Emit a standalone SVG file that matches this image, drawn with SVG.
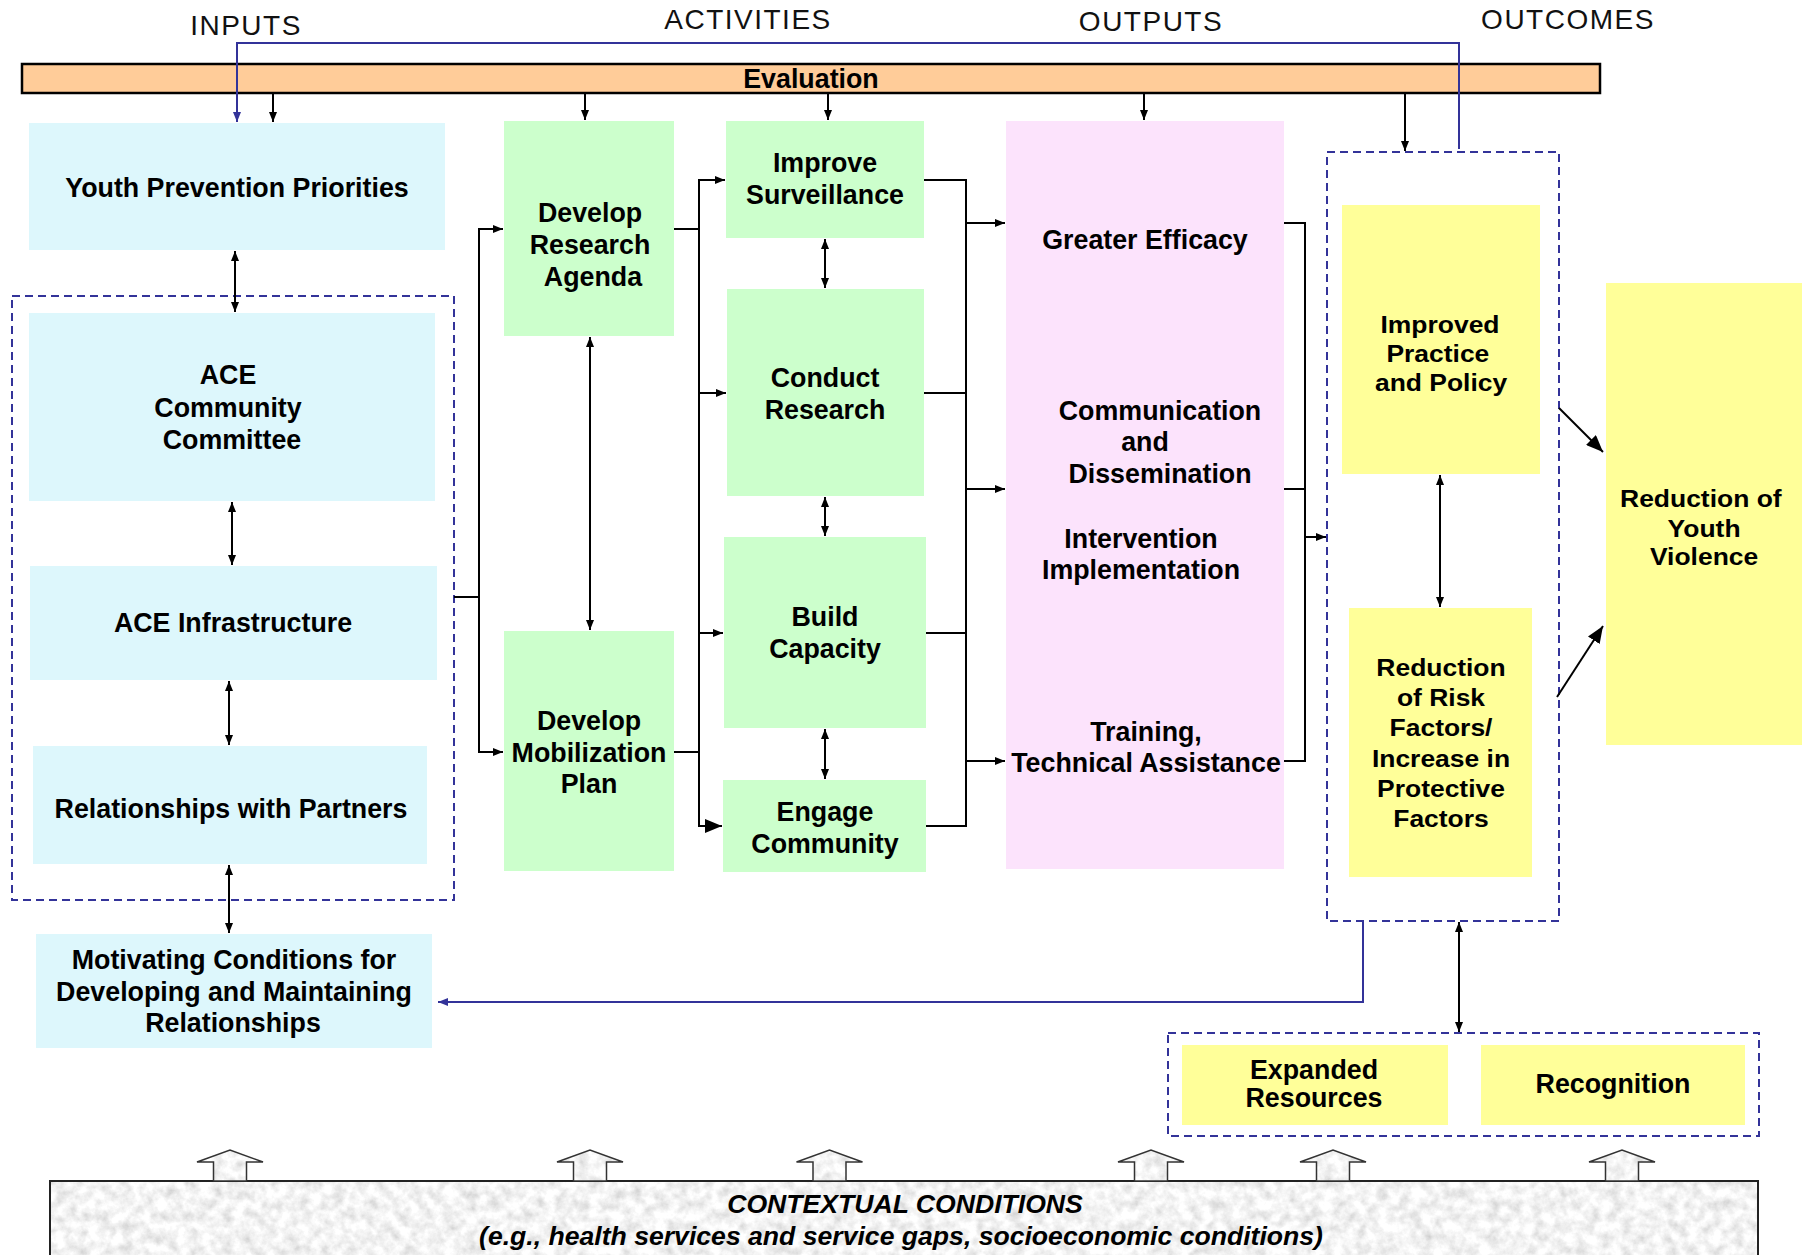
<svg xmlns="http://www.w3.org/2000/svg" width="1806" height="1255" viewBox="0 0 1806 1255">
<style>
  .t { font-family: "Liberation Sans", Arial, sans-serif; font-weight: bold; font-size: 26.8px; fill: #000; text-anchor: middle; }
  .ty { font-family: "Liberation Sans", Arial, sans-serif; font-weight: bold; font-size: 24.5px; fill: #000; text-anchor: middle; }
  .hd { font-family: "Liberation Sans", Arial, sans-serif; font-size: 28px; letter-spacing: 1.5px; fill: #111; text-anchor: middle; }
  .ctx { font-family: "Liberation Sans", Arial, sans-serif; font-weight: bold; font-style: italic; font-size: 26.6px; fill: #000; text-anchor: middle; }
  .cyan { fill: #DDF7FC; }
  .green { fill: #CCFFCC; }
  .pink { fill: #FCE3FC; }
  .yellow { fill: #FFFF99; }
  .dash { fill: none; stroke: #333399; stroke-width: 2; stroke-dasharray: 8 5; }
  .ln { fill: none; stroke: #000; stroke-width: 2; }
  .ar { fill: none; stroke: #000; stroke-width: 2; marker-end: url(#ah); }
  .arB { fill: none; stroke: #000; stroke-width: 2; marker-end: url(#ahBig); }
  .dbl { fill: none; stroke: #000; stroke-width: 2; marker-start: url(#ah); marker-end: url(#ah); }
  .blue { fill: none; stroke: #333399; stroke-width: 2; marker-end: url(#ahBlue); }
  .blk { fill: none; stroke: #333; stroke-width: 1.5; }
</style>
<defs>
  <marker id="ah" markerUnits="userSpaceOnUse" markerWidth="10" markerHeight="8" refX="10" refY="4" orient="auto-start-reverse">
    <path d="M0,0 L10,4 L0,8 z" fill="#000"/>
  </marker>
  <marker id="ahBig" markerUnits="userSpaceOnUse" markerWidth="17" markerHeight="14" refX="17" refY="7" orient="auto">
    <path d="M0,0 L17,7 L0,14 z" fill="#000"/>
  </marker>
  <marker id="ahBlue" markerUnits="userSpaceOnUse" markerWidth="10" markerHeight="8" refX="10" refY="4" orient="auto">
    <path d="M0,0 L10,4 L0,8 z" fill="#333399"/>
  </marker>
  <filter id="granite" x="0" y="0" width="100%" height="100%">
    <feTurbulence type="fractalNoise" baseFrequency="0.09" numOctaves="4" seed="7" result="n"/>
    <feColorMatrix in="n" type="matrix" values="0.6 0 0 0 0.6  0.6 0 0 0 0.6  0.6 0 0 0 0.6  0 0 0 0 1" result="g"/>
    <feComposite in="g" in2="SourceGraphic" operator="in"/>
  </filter>
</defs>

<rect width="1806" height="1255" fill="#FFFFFF"/>

<!-- headers -->
<g id="headers">
  <text class="hd" x="246" y="35">INPUTS</text>
  <text class="hd" x="748" y="29">ACTIVITIES</text>
  <text class="hd" x="1151" y="31">OUTPUTS</text>
  <text class="hd" x="1568" y="29">OUTCOMES</text>
</g>

<!-- evaluation bar -->
<g id="evaluation">
  <rect x="22" y="64" width="1578" height="29" fill="#FFCC99" stroke="#000" stroke-width="2.5"/>
  <text class="t" x="811" y="88">Evaluation</text>
</g>

<!-- dashed groups -->
<g id="group-inputs"><rect class="dash" x="12" y="296" width="442" height="604"/></g>
<g id="group-outcomes"><rect class="dash" x="1327" y="152" width="232" height="769"/></g>
<g id="group-resources"><rect class="dash" x="1168" y="1033" width="591" height="103"/></g>

<!-- inputs -->
<g id="youth-prevention-priorities">
  <rect class="cyan" x="29" y="123" width="416" height="127"/>
  <text class="t" x="237" y="197">Youth Prevention Priorities</text>
</g>
<g id="ace-community-committee">
  <rect class="cyan" x="29" y="313" width="406" height="188"/>
  <text class="t" x="228" y="384">ACE</text>
  <text class="t" x="228" y="417">Community</text>
  <text class="t" x="232" y="449">Committee</text>
</g>
<g id="ace-infrastructure">
  <rect class="cyan" x="30" y="566" width="407" height="114"/>
  <text class="t" x="233" y="632">ACE Infrastructure</text>
</g>
<g id="relationships-with-partners">
  <rect class="cyan" x="33" y="746" width="394" height="118"/>
  <text class="t" x="231" y="818">Relationships with Partners</text>
</g>
<g id="motivating-conditions">
  <rect class="cyan" x="36" y="934" width="396" height="114"/>
  <text class="t" x="234" y="969">Motivating Conditions for</text>
  <text class="t" x="234" y="1001">Developing and Maintaining</text>
  <text class="t" x="233" y="1032">Relationships</text>
</g>

<!-- activities -->
<g id="develop-research-agenda">
  <rect class="green" x="504" y="121" width="170" height="215"/>
  <text class="t" x="590" y="222">Develop</text>
  <text class="t" x="590" y="254">Research</text>
  <text class="t" x="593" y="286">Agenda</text>
</g>
<g id="develop-mobilization-plan">
  <rect class="green" x="504" y="631" width="170" height="240"/>
  <text class="t" x="589" y="730">Develop</text>
  <text class="t" x="589" y="762">Mobilization</text>
  <text class="t" x="589" y="793">Plan</text>
</g>
<g id="improve-surveillance">
  <rect class="green" x="726" y="121" width="198" height="117"/>
  <text class="t" x="825" y="172">Improve</text>
  <text class="t" x="825" y="204">Surveillance</text>
</g>
<g id="conduct-research">
  <rect class="green" x="727" y="289" width="197" height="207"/>
  <text class="t" x="825" y="387">Conduct</text>
  <text class="t" x="825" y="419">Research</text>
</g>
<g id="build-capacity">
  <rect class="green" x="724" y="537" width="202" height="191"/>
  <text class="t" x="825" y="626">Build</text>
  <text class="t" x="825" y="658">Capacity</text>
</g>
<g id="engage-community">
  <rect class="green" x="723" y="780" width="203" height="92"/>
  <text class="t" x="825" y="821">Engage</text>
  <text class="t" x="825" y="853">Community</text>
</g>

<!-- outputs -->
<g id="outputs">
  <rect class="pink" x="1006" y="121" width="278" height="748"/>
  <text class="t" x="1145" y="249">Greater Efficacy</text>
  <text class="t" x="1160" y="420">Communication</text>
  <text class="t" x="1145" y="451">and</text>
  <text class="t" x="1160" y="483">Dissemination</text>
  <text class="t" x="1141" y="548">Intervention</text>
  <text class="t" x="1141" y="579">Implementation</text>
  <text class="t" x="1146" y="741">Training,</text>
  <text class="t" x="1146" y="772">Technical Assistance</text>
</g>

<!-- outcomes -->
<g id="improved-practice-policy">
  <rect class="yellow" x="1342" y="205" width="198" height="269"/>
  <g transform="translate(1440,0) scale(1.08,1)">
    <text class="ty" x="0" y="333">Improved</text>
    <text class="ty" x="-2" y="362">Practice</text>
    <text class="ty" x="1" y="391">and Policy</text>
  </g>
</g>
<g id="reduction-risk-factors">
  <rect class="yellow" x="1349" y="608" width="183" height="269"/>
  <g transform="translate(1441,0) scale(1.08,1)">
    <text class="ty" x="0" y="676">Reduction</text>
    <text class="ty" x="0" y="706">of Risk</text>
    <text class="ty" x="0" y="736">Factors/</text>
    <text class="ty" x="0" y="767">Increase in</text>
    <text class="ty" x="0" y="797">Protective</text>
    <text class="ty" x="0" y="827">Factors</text>
  </g>
</g>
<g id="reduction-youth-violence">
  <rect class="yellow" x="1606" y="283" width="196" height="462"/>
  <g transform="translate(1703,0) scale(1.08,1)">
    <text class="ty" x="-2" y="507">Reduction of</text>
    <text class="ty" x="1" y="537">Youth</text>
    <text class="ty" x="1" y="565">Violence</text>
  </g>
</g>
<g id="expanded-resources">
  <rect class="yellow" x="1182" y="1045" width="266" height="80"/>
  <text class="t" x="1314" y="1079">Expanded</text>
  <text class="t" x="1314" y="1107">Resources</text>
</g>
<g id="recognition">
  <rect class="yellow" x="1481" y="1045" width="264" height="80"/>
  <text class="t" x="1613" y="1093">Recognition</text>
</g>

<!-- contextual conditions -->
<g id="contextual-conditions">
  <rect x="50" y="1181" width="1708" height="80" fill="#DDDDDD" filter="url(#granite)"/>
  <path d="M50,1262 V1181 H1758 V1262" fill="none" stroke="#222" stroke-width="2"/>
  <text class="ctx" x="905" y="1213">CONTEXTUAL CONDITIONS</text>
  <text class="ctx" x="901" y="1245">(e.g., health services and service gaps, socioeconomic conditions)</text>
</g>
<g id="context-arrows">
  <polygon points="213.5,1181 213.5,1162 197,1162 230,1150 263,1162 246.5,1162 246.5,1181" fill="#E6E6E6" filter="url(#granite)"/>
  <polygon class="blk" points="213.5,1181 213.5,1162 197,1162 230,1150 263,1162 246.5,1162 246.5,1181"/>
  <polygon points="573.5,1181 573.5,1162 557,1162 590,1150 623,1162 606.5,1162 606.5,1181" fill="#E6E6E6" filter="url(#granite)"/>
  <polygon class="blk" points="573.5,1181 573.5,1162 557,1162 590,1150 623,1162 606.5,1162 606.5,1181"/>
  <polygon points="813,1181 813,1162 796.5,1162 829.5,1150 862.5,1162 846,1162 846,1181" fill="#E6E6E6" filter="url(#granite)"/>
  <polygon class="blk" points="813,1181 813,1162 796.5,1162 829.5,1150 862.5,1162 846,1162 846,1181"/>
  <polygon points="1134.5,1181 1134.5,1162 1118,1162 1151,1150 1184,1162 1167.5,1162 1167.5,1181" fill="#E6E6E6" filter="url(#granite)"/>
  <polygon class="blk" points="1134.5,1181 1134.5,1162 1118,1162 1151,1150 1184,1162 1167.5,1162 1167.5,1181"/>
  <polygon points="1316.5,1181 1316.5,1162 1300,1162 1333,1150 1366,1162 1349.5,1162 1349.5,1181" fill="#E6E6E6" filter="url(#granite)"/>
  <polygon class="blk" points="1316.5,1181 1316.5,1162 1300,1162 1333,1150 1366,1162 1349.5,1162 1349.5,1181"/>
  <polygon points="1605.5,1181 1605.5,1162 1589,1162 1622,1150 1655,1162 1638.5,1162 1638.5,1181" fill="#E6E6E6" filter="url(#granite)"/>
  <polygon class="blk" points="1605.5,1181 1605.5,1162 1589,1162 1622,1150 1655,1162 1638.5,1162 1638.5,1181"/>
</g>

<!-- connectors -->
<g id="connectors">
  <!-- evaluation feeds -->
  <path class="ar" d="M273,93 V122"/>
  <path class="ar" d="M585,93 V120"/>
  <path class="ar" d="M828,93 V120"/>
  <path class="ar" d="M1144,93 V120"/>
  <path class="ar" d="M1405,93 V151"/>
  <!-- blue feedback -->
  <path class="blue" d="M1459,149 V43 H237 V122"/>
  <path class="blue" d="M1363,921 V1002 H438"/>
  <!-- inputs chain -->
  <path class="dbl" d="M235,251 V312"/>
  <path class="dbl" d="M232,502 V565"/>
  <path class="dbl" d="M229,681 V745"/>
  <path class="dbl" d="M229,865 V933"/>
  <!-- inputs to activities -->
  <path class="ln" d="M454,597 H479"/>
  <path class="ar" d="M479,597 V229 H503"/>
  <path class="ar" d="M479,597 V752 H503"/>
  <path class="dbl" d="M590,337 V630"/>
  <!-- first activities to second -->
  <path class="ln" d="M674,229 H699"/>
  <path class="ln" d="M674,752 H699"/>
  <path class="ar" d="M699,229 V180 H725"/>
  <path class="ar" d="M699,229 V393 H726"/>
  <path class="ar" d="M699,393 V633 H723"/>
  <path class="arB" d="M699,633 V826 H722"/>
  <path class="dbl" d="M825,239 V288"/>
  <path class="dbl" d="M825,497 V536"/>
  <path class="dbl" d="M825,729 V779"/>
  <!-- activities to outputs -->
  <path class="ln" d="M924,180 H966 V826 H926"/>
  <path class="ln" d="M924,393 H966"/>
  <path class="ln" d="M926,633 H966"/>
  <path class="ar" d="M966,223 H1005"/>
  <path class="ar" d="M966,489 H1005"/>
  <path class="ar" d="M966,761 H1005"/>
  <!-- outputs to outcomes -->
  <path class="ln" d="M1284,223 H1305 V761 H1284"/>
  <path class="ln" d="M1284,489 H1305"/>
  <path class="ar" d="M1305,537 H1326"/>
  <path class="dbl" d="M1440,475 V607"/>
  <path class="dbl" d="M1459,922 V1032"/>
  <!-- to reduction of youth violence -->
  <path class="arB" d="M1559,408 L1603,452"/>
  <path class="arB" d="M1557,697 L1603,626"/>
</g>
</svg>
